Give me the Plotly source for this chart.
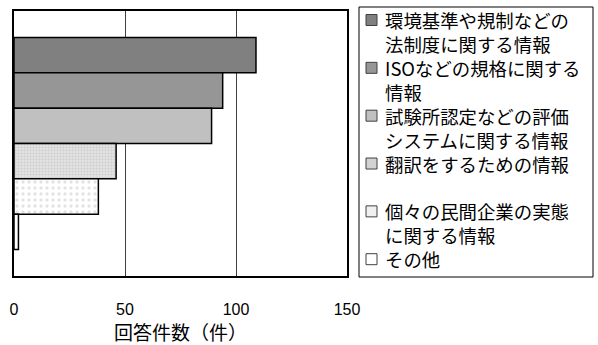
import plotly.graph_objects as go

# Survey responses: kinds of information respondents want
categories = [
    "環境基準や規制などの|法制度に関する情報",
    "ISOなどの規格に関する|情報",
    "試験所認定などの評価|システムに関する情報",
    "翻訳をするための情報| ",
    "個々の民間企業の実態|に関する情報",
    "その他",
]
counts = [109, 94, 89, 46, 38, 2]
x_ticks = [0, 50, 100, 150]

fills = ["#808080", "#969696", "#c0c0c0", "#e4e4e4", "#ffffff", "#ffffff"]
swatch_fills = ["#808080", "#969696", "#c0c0c0", "#d2d2d2", "#f0f0f0", "#ffffff"]
patterns = [
    dict(shape=""),
    dict(shape=""),
    dict(shape=""),
    dict(shape=".", fgcolor="#b8b8b8", bgcolor="#e8e8e8", size=3, solidity=0.5),
    dict(shape=".", fgcolor="#c8c8c8", bgcolor="#ffffff", size=6, solidity=0.25),
    dict(shape=""),
]

jp_font = "Noto Sans CJK JP"

# plot area in pixels (figure is 598 x 345)
W, H = 598, 345
L, R, T, B = 14, 251, 11, 69
pw, ph = W - L - R, H - T - B


def px_x(x):
    return (x - L) / pw


def px_y(y):
    return (H - B - y) / ph


fig = go.Figure()
for name, val, col, pat in zip(categories, counts, fills, patterns):
    fig.add_trace(go.Bar(
        y=["回答"], x=[val], name=name.replace("|", "").strip(), orientation="h",
        showlegend=False,
        marker=dict(color=col, pattern=pat, line=dict(color="#000000", width=1.5)),
    ))

# hand-drawn legend: frame, swatches and one block of label text
legend_font = 18.4
line_h = legend_font * 1.3
first_line = 20.0

shapes = [dict(
    type="rect", xref="paper", yref="paper",
    x0=px_x(359), x1=px_x(593), y0=px_y(277), y1=px_y(7),
    line=dict(color="#000000", width=1), fillcolor="rgba(0,0,0,0)",
)]
lines = []
for name, sw in zip(categories, swatch_fills):
    y_c = first_line + len(lines) * line_h
    shapes.append(dict(
        type="rect", xref="paper", yref="paper",
        x0=px_x(366), x1=px_x(377), y0=px_y(y_c + 5.5), y1=px_y(y_c - 5.5),
        line=dict(color="#404040", width=1), fillcolor=sw,
    ))
    lines.extend(name.split("|"))

block_mid = first_line + (len(lines) - 1) / 2 * line_h
annotations = [dict(
    xref="paper", yref="paper", x=px_x(384), y=px_y(block_mid),
    xanchor="left", yanchor="middle", align="left", showarrow=False,
    text="<br>".join(lines), borderpad=0,
    font=dict(family=jp_font, size=legend_font, color="#000000"),
)]

fig.update_layout(
    width=W, height=H,
    margin=dict(l=L, r=R, t=T, b=B, autoexpand=False),
    paper_bgcolor="white", plot_bgcolor="white",
    barmode="group", bargap=0.2, bargroupgap=0,
    showlegend=False,
    xaxis=dict(
        range=[0, 150], tickvals=x_ticks, ticktext=[str(t) for t in x_ticks],
        showgrid=True, gridcolor="#404040", gridwidth=1,
        showline=True, linecolor="#000000", linewidth=1.5, mirror=True,
        ticks="", ticklabelstandoff=18,
        tickfont=dict(family="Liberation Sans, Arial", size=16, color="#000000"),
        title=dict(text="回答件数（件）", font=dict(family=jp_font, size=19, color="#000000"), standoff=4),
        zeroline=False,
    ),
    yaxis=dict(
        autorange="reversed", showticklabels=False, ticks="",
        showline=True, linecolor="#000000", linewidth=1.5, mirror=True,
        showgrid=False,
    ),
    shapes=shapes,
    annotations=annotations,
)

fig.write_html("out.html")
